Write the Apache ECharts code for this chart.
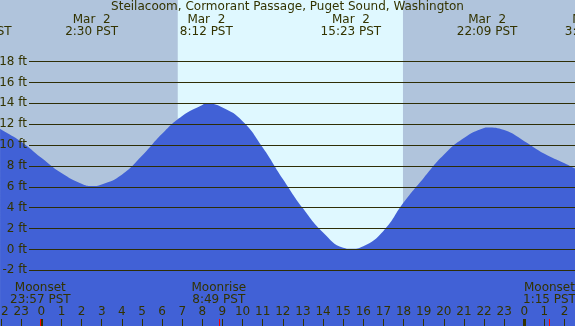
<!DOCTYPE html>
<html>
<head>
<meta charset="utf-8">
<script src="https://cdn.jsdelivr.net/npm/echarts@6/dist/echarts.min.js"></script>
<style>
html,body{margin:0;padding:0;background:#b0c4dc;}
#c{width:575px;height:326px;}
</style>
</head>
<body>
<div id="c"></div>
<script>
// ---- data ----
const titleText = 'Steilacoom, Cormorant Passage, Puget Sound, Washington';
// hours from midnight, Mar 2 (PST)
const tideHours = [-2.05, -2, -1, 0, 1, 2, 2.5, 3, 4, 5, 6, 7, 8, 8.2, 9, 10, 11, 12, 13, 14, 15, 15.38, 16, 17, 18, 19, 20, 21, 22, 22.15, 23, 24, 25, 26, 26.52];
const tideFeet  = [11.46, 11.42, 10.25, 8.72, 7.26, 6.25, 6.03, 6.18, 7.1, 8.9, 11.0, 12.7, 13.75, 13.88, 13.5, 12.2, 9.7, 6.7, 3.9, 1.6, 0.15, 0.05, 0.3, 1.75, 4.45, 6.8, 9.0, 10.6, 11.55, 11.6, 11.35, 10.3, 9.1, 8.2, 7.7];

const tideEventHours  = [-2.98, 2.5, 8.2, 15.383, 22.15, 27.33];
const tideEventLabels = ['Mar  1\n21:01 PST', 'Mar  2\n2:30 PST', 'Mar  2\n8:12 PST', 'Mar  2\n15:23 PST', 'Mar  2\n22:09 PST', 'Mar  3\n3:20 PST'];

const moonHours  = [-0.05, 8.817, 25.25];
const moonLabels = ['Moonset\n23:57 PST', 'Moonrise\n8:49 PST', 'Moonset\n1:15 PST'];

const midnightHours = [0, 24];
const sunrise = 6.78, sunset = 17.97;

// ---- chart ----
const FG = '#333300';
const FONT = 'DejaVu Sans';
const chart = echarts.init(document.getElementById('c'), null, {renderer: 'canvas'});

const tidePairs = tideHours.map((h, i) => [h, tideFeet[i]]);
const evMap = {}; tideEventHours.forEach((h, i) => evMap[h] = tideEventLabels[i]);
const moonMap = {}; moonHours.forEach((h, i) => moonMap[h] = moonLabels[i]);

const baseX = {
  gridIndex: 0, type: 'value', min: -5, max: 29, position: 'bottom', z: 10,
  axisLine: {show: false, onZero: false}, splitLine: {show: false}
};

chart.setOption({
  animation: false,
  backgroundColor: '#b0c4dc',
  title: {
    text: titleText, left: 'center', top: 1, padding: 0, z: 20,
    textStyle: {fontFamily: FONT, fontSize: 12, fontWeight: 'normal', color: FG}
  },
  grid: [
    {left: -59.3, right: -49.93, top: 0, bottom: 0, outerBoundsMode: 'none', containLabel: false},
    {left: 29, right: 0, top: 61.6, bottom: 55.7, outerBoundsMode: 'none', containLabel: false}
  ],
  xAxis: [
    Object.assign({}, baseX, {
      interval: 1,
      axisTick: {show: true, inside: true, length: 7, lineStyle: {color: FG, width: 1}},
      axisLabel: {show: true, inside: true, margin: 8, color: FG, fontFamily: FONT, fontSize: 12, hideOverlap: false,
        formatter: v => String(((v % 24) + 24) % 24)}
    }),
    Object.assign({}, baseX, {
      axisTick: {show: true, inside: true, length: 7, customValues: midnightHours, lineStyle: {color: FG, width: 3}},
      axisLabel: {show: false}
    }),
    Object.assign({}, baseX, {
      axisTick: {show: true, inside: true, length: 7, customValues: moonHours, lineStyle: {color: '#ff0000', width: 1}},
      axisLabel: {show: true, inside: true, margin: 20, customValues: moonHours, color: FG, fontFamily: FONT, fontSize: 12, lineHeight: 12, hideOverlap: false,
        formatter: v => moonMap[v] || ''}
    }),
    Object.assign({}, baseX, {
      position: 'top',
      axisTick: {show: false},
      axisLabel: {show: true, inside: true, margin: 13.5, customValues: tideEventHours, color: FG, fontFamily: FONT, fontSize: 12, lineHeight: 12, hideOverlap: false,
        formatter: v => evMap[v] || ''}
    }),
    {gridIndex: 1, type: 'value', min: 0, max: 1, show: false}
  ],
  yAxis: [
    {gridIndex: 0, type: 'value', min: -7.305, max: 23.743, show: false},
    {gridIndex: 1, type: 'value', min: -2, max: 18, interval: 2, z: 10,
      axisLine: {show: false}, axisTick: {show: false},
      splitLine: {show: true, lineStyle: {color: '#2e2e06', width: 1}},
      axisLabel: {margin: 2, color: FG, fontFamily: FONT, fontSize: 12, formatter: '{value} ft'}
    }
  ],
  series: [
    {
      type: 'line', xAxisIndex: 0, yAxisIndex: 0, data: [], z: 1, silent: true,
      markArea: {
        silent: true,
        itemStyle: {color: '#dff8ff'},
        data: [[{xAxis: sunrise}, {xAxis: sunset}]]
      }
    },
    {
      type: 'line', xAxisIndex: 0, yAxisIndex: 0, z: 2, silent: true,
      data: tidePairs, smooth: 0.5, symbol: 'none',
      lineStyle: {width: 0},
      areaStyle: {color: '#4161d6', opacity: 1, origin: 'start'}
    }
  ]
});
</script>
</body>
</html>
